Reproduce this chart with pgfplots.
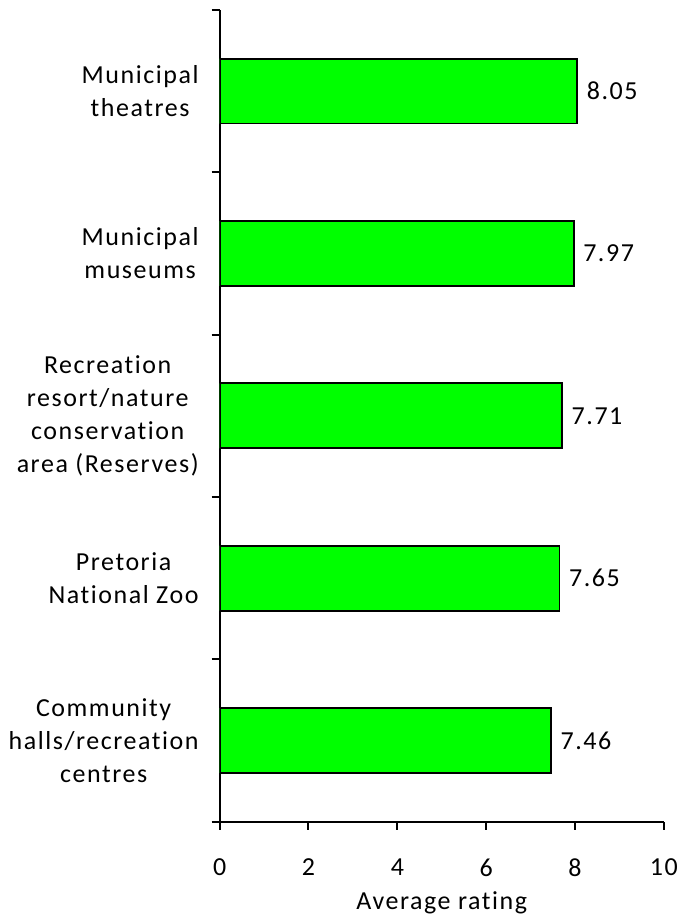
\documentclass[border=0pt]{standalone}
\usepackage{pgfplots}
\pgfplotsset{compat=1.18}
\usepackage{fontspec}
\setmainfont[LetterSpace=6, Ligatures=NoCommon]{Carlito}

\definecolor{bargreen}{RGB}{0,255,0}

\begin{document}
\fontsize{13}{16.5}\selectfont
\begin{tikzpicture}
  \begin{axis}[
      scale only axis,
      width=222.5pt, height=406.5pt,
      xbar, bar width=32.5pt,
      xmin=0, xmax=10,
      ymin=-0.5, ymax=4.5,
      axis lines=left,
      axis line style={line width=1pt, -},
      xtick={0,2,...,10},
      ytick={0,1,2,3,4},
      yticklabels={Community\\halls/recreation\\centres,
                   Pretoria\\National Zoo,
                   Recreation\\resort/nature\\conservation\\area (Reserves),
                   Municipal\\museums,
                   Municipal\\theatres},
      yticklabel style={align=center, xshift=-2pt},
      major y tick style={draw=none},
      minor ytick={-0.5,0.5,...,4.5},
      tick align=outside,
      tick style={line width=1pt, black},
      major tick length=4pt,
      minor tick length=4pt,
      xticklabel style={yshift=-10pt},
      xlabel={Average rating},
      xlabel style={inner ysep=0pt, yshift=-3pt},
      /pgf/number format/assume math mode=true,
      nodes near coords,
      nodes near coords style={anchor=west, xshift=0pt,
        /pgf/number format/.cd, fixed, fixed zerofill, precision=2},
  ]
    \addplot[fill=bargreen, draw=black, line width=0.9pt] coordinates {
      (7.46,0) (7.65,1) (7.71,2) (7.97,3) (8.05,4)
    };
  \end{axis}
  \path (current axis.north west) ++(0,5pt);
  \path (current axis.south) ++(0,-45.5pt);
\end{tikzpicture}
\end{document}
